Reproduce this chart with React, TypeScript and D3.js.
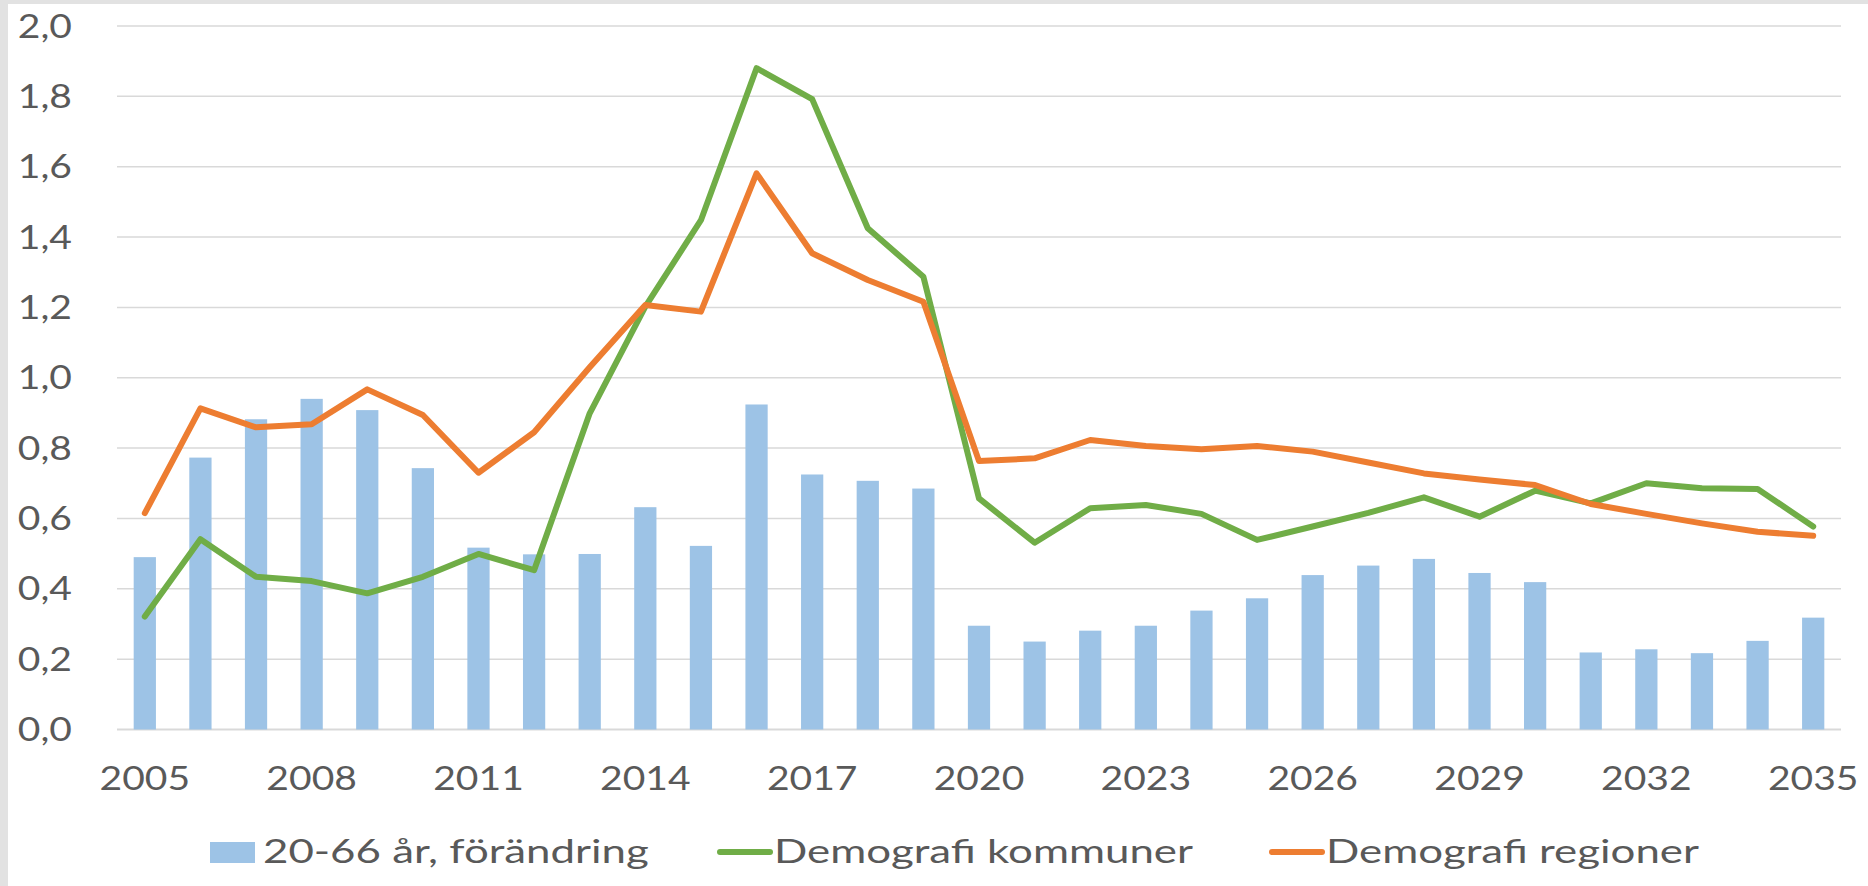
import React, { useEffect, useRef } from 'react';
import * as d3 from 'd3';

// values
const years = [
  2005, 2006, 2007, 2008, 2009, 2010, 2011, 2012, 2013, 2014, 2015, 2016, 2017, 2018, 2019, 2020,
  2021, 2022, 2023, 2024, 2025, 2026, 2027, 2028, 2029, 2030, 2031, 2032, 2033, 2034, 2035,
];
const forandring = [
  0.49, 0.773, 0.882, 0.94, 0.908, 0.743, 0.517, 0.498, 0.499, 0.632, 0.522, 0.924, 0.725, 0.707,
  0.685, 0.295, 0.25, 0.281, 0.295, 0.338, 0.373, 0.439, 0.466, 0.485, 0.445, 0.419, 0.219, 0.228,
  0.217, 0.252, 0.318,
];
const kommuner = [
  0.321, 0.541, 0.434, 0.422, 0.387, 0.434, 0.499, 0.453, 0.899, 1.202, 1.448, 1.88, 1.792, 1.425,
  1.287, 0.657, 0.531, 0.629, 0.638, 0.613, 0.539, 0.577, 0.616, 0.66, 0.605, 0.679, 0.643, 0.7,
  0.686, 0.684, 0.577,
];
const regioner = [
  0.615, 0.913, 0.859, 0.868, 0.967, 0.894, 0.73, 0.845, 1.03, 1.207, 1.188, 1.581, 1.354, 1.278,
  1.216, 0.763, 0.771, 0.823, 0.806, 0.797, 0.806, 0.79, 0.759, 0.728, 0.711, 0.695, 0.641, 0.613,
  0.586, 0.562, 0.551,
];
const yTicks = [0, 0.2, 0.4, 0.6, 0.8, 1.0, 1.2, 1.4, 1.6, 1.8, 2.0];
const xTickYears = [2005, 2008, 2011, 2014, 2017, 2020, 2023, 2026, 2029, 2032, 2035];
const legendLabels = ['20-66 år, förändring', 'Demografi kommuner', 'Demografi regioner'];

const W = 1868;
const H = 886;
const FONT = 'Lato, "Open Sans", sans-serif';
const SX = 1.22; // the source picture is stretched sideways
const SX_LEGEND = 1.37;
const TEXT = '#595959';

const App = () => {
  const svgRef = useRef<SVGSVGElement>(null);

  useEffect(() => {
    const svg = d3.select(svgRef.current);
    svg.selectAll('*').remove();

    const left = 117;
    const right = 1841;
    const top = 26;
    const bottom = 729.5;

    const x = d3
      .scaleBand<string>()
      .domain(years.map(String))
      .range([left, right])
      .paddingInner(0.6)
      .paddingOuter(0.3);
    const cx = (i: number) => (x(String(years[i])) as number) + x.bandwidth() / 2;

    const y = d3.scaleLinear().domain([0, 2]).range([bottom, top]);
    const fmt = (v: number) => d3.format('.1f')(v).replace('.', ',');

    // frame
    svg.append('rect').attr('width', W).attr('height', H).attr('fill', '#fff');
    svg.append('rect').attr('width', 8).attr('height', H).attr('fill', '#e2e2e2');
    svg.append('rect').attr('width', W).attr('height', 4).attr('fill', '#e2e2e2');

    // grid
    svg
      .append('g')
      .selectAll('line')
      .data(yTicks)
      .join('line')
      .attr('x1', left)
      .attr('x2', right)
      .attr('y1', (d) => y(d))
      .attr('y2', (d) => y(d))
      .attr('stroke', '#d9d9d9')
      .attr('stroke-width', (d) => (d === 0 ? 2 : 1.5));

    // y labels
    svg
      .append('g')
      .selectAll('text')
      .data(yTicks)
      .join('text')
      .attr('transform', (d) => `translate(72, ${y(d)}) scale(${SX},1)`)
      .attr('dy', '0.36em')
      .attr('text-anchor', 'end')
      .attr('font-family', FONT)
      .attr('font-size', 32)
      .attr('fill', TEXT)
      .text((d) => fmt(d));

    // x labels
    svg
      .append('g')
      .selectAll('text')
      .data(xTickYears)
      .join('text')
      .attr('transform', (d) => `translate(${cx(years.indexOf(d))}, 790) scale(${SX},1)`)
      .attr('text-anchor', 'middle')
      .attr('font-family', FONT)
      .attr('font-size', 32)
      .attr('fill', TEXT)
      .text((d) => d);

    // bars
    svg
      .append('g')
      .selectAll('rect')
      .data(forandring)
      .join('rect')
      .attr('x', (d, i) => x(String(years[i])) as number)
      .attr('y', (d) => y(d))
      .attr('width', x.bandwidth())
      .attr('height', (d) => y(0) - y(d))
      .attr('fill', '#9dc3e6');

    const line = d3
      .line<number>()
      .x((d, i) => cx(i))
      .y((d) => y(d));

    svg
      .append('path')
      .attr('d', line(kommuner))
      .attr('fill', 'none')
      .attr('stroke', '#70ad47')
      .attr('stroke-width', 6)
      .attr('stroke-linejoin', 'round')
      .attr('stroke-linecap', 'round');

    svg
      .append('path')
      .attr('d', line(regioner))
      .attr('fill', 'none')
      .attr('stroke', '#ed7d31')
      .attr('stroke-width', 6)
      .attr('stroke-linejoin', 'round')
      .attr('stroke-linecap', 'round');

    // legend
    const lg = svg.append('g');
    lg.append('rect').attr('x', 210).attr('y', 842).attr('width', 45).attr('height', 21).attr('fill', '#9dc3e6');
    lg.append('line')
      .attr('x1', 720).attr('x2', 770).attr('y1', 852).attr('y2', 852)
      .attr('stroke', '#70ad47').attr('stroke-width', 6).attr('stroke-linecap', 'round');
    lg.append('line')
      .attr('x1', 1272).attr('x2', 1322).attr('y1', 852).attr('y2', 852)
      .attr('stroke', '#ed7d31').attr('stroke-width', 6).attr('stroke-linecap', 'round');

    const legendX = [263, 774, 1326];
    lg.selectAll('text')
      .data(legendLabels)
      .join('text')
      .attr('transform', (d, i) => `translate(${legendX[i]}, 863) scale(${SX_LEGEND},1)`)
      .attr('font-family', FONT)
      .attr('font-size', 32)
      .attr('fill', TEXT)
      .text((d) => d);
  }, []);

  return (
    <svg
      ref={svgRef}
      width={W}
      height={H}
      style={{ position: 'absolute', left: 0, top: 0, display: 'block' }}
    />
  );
};

export default App;
